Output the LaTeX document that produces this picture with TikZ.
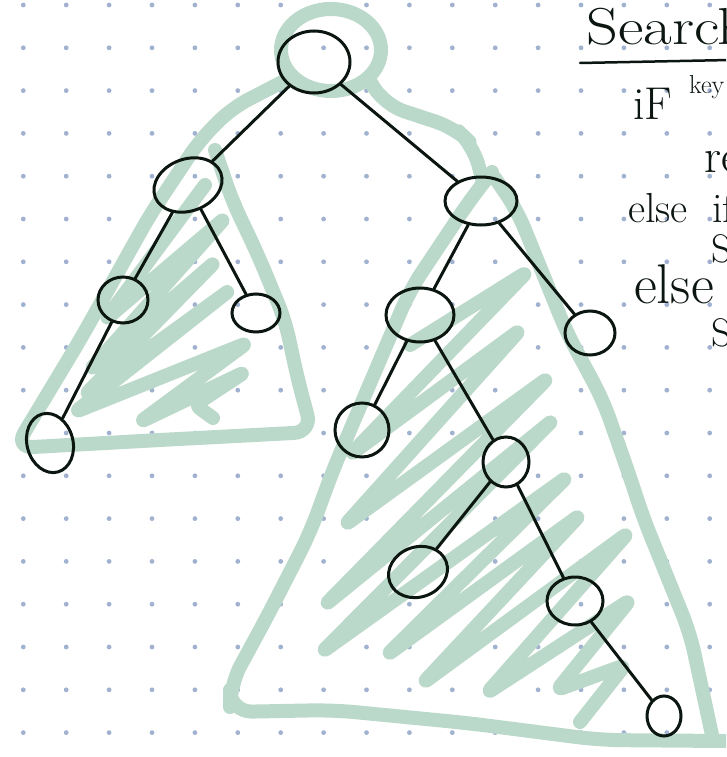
\documentclass[tikz,border=0pt]{standalone}
\usetikzlibrary{shapes.geometric}
\definecolor{leaf}{RGB}{187,217,203}
\definecolor{dotc}{RGB}{160,178,208}
\definecolor{ink}{RGB}{12,22,16}
\tikzset{
  ell/.style={draw=ink, line width=3, ellipse, inner sep=0, fill=none},
  edge/.style={draw=ink, line width=3, line cap=round},
  marker/.style={draw=leaf, line width=14, line cap=round, line join=round},
  hand/.style={text=ink, inner sep=0, anchor=base west},
}
\begin{document}
\begin{tikzpicture}[x=1pt,y=-1pt]
\useasboundingbox (0,0) rectangle (726,757);
\clip (0,0) rectangle (726,757);
\fill[white] (0,0) rectangle (726,757);
% dot grid
\foreach \i in {0,...,16} {
  \foreach \j in {0,...,17} {
    \fill[dotc] ({23.3+42.9*\i},{5+42.8*\j}) circle (2.4);
  }
}
% green markings: left triangle
\draw[marker, rounded corners=18] (290,78) -- (232,108) -- (200,140) -- (150,215) -- (80,340) -- (15,448)
   -- (160,440) -- (312,432) -- (298,380) -- (285,320) -- (258,255) -- (232,200) -- (215,150);
% root loop
\draw[marker] (331,50) ellipse (50 and 41);
% connecting stroke root to right subtree
\draw[marker, rounded corners=20] (368,78) -- (385,105) -- (455,128) -- (473,145) -- (483,182);
% right triangle
\draw[marker, rounded corners=22] (492,172) -- (470,200) -- (410,290) -- (377,367) -- (333,470)
  -- (310,533) -- (267,617) -- (230,685) -- (230,712) -- (333,710) -- (467,723) -- (600,740) -- (726,741);
\draw[marker, rounded corners=20] (495,178) -- (517,210) -- (567,333) -- (603,400) -- (630,477)
  -- (643,517) -- (690,633) -- (712,735);
% hatching left
\draw[marker, rounded corners=6] (205,185) -- (105,320) -- (225,218) -- (90,370) -- (215,262) -- (85,395) -- (230,290)
  -- (75,412) -- (247,343) -- (140,422) -- (245,372) -- (195,405) -- (213,418);
% hatching right
\draw[marker, rounded corners=6] (410,345) -- (527,272) -- (350,455) -- (520,330) -- (345,525)
  -- (548,378) -- (325,605) -- (553,420) -- (322,652) -- (567,477) -- (387,655) -- (580,515)
  -- (423,683) -- (628,533) -- (487,693) -- (630,600) -- (557,690) -- (625,665) -- (580,722);
% tree nodes
\node[ell, minimum width=72, minimum height=62] (root) at (314,62) {};
\node[ell, minimum width=70, minimum height=52, rotate=20] (L) at (188,185) {};
\node[ell, minimum width=50, minimum height=46] (LL) at (123,300) {};
\node[ell, minimum width=48, minimum height=38] (LR) at (256,313) {};
\node[ell, minimum width=46, minimum height=60, rotate=15] (LLL) at (50,443) {};
\node[ell, minimum width=72, minimum height=48] (R) at (481,201) {};
\node[ell, minimum width=68, minimum height=54] (RL) at (420,315) {};
\node[ell, minimum width=50, minimum height=44] (RR) at (590,333) {};
\node[ell, minimum width=54, minimum height=54] (RLL) at (362,430) {};
\node[ell, minimum width=46, minimum height=50] (RLR) at (506,462) {};
\node[ell, minimum width=60, minimum height=50, rotate=20] (RLRL) at (418,572) {};
\node[ell, minimum width=56, minimum height=48] (RLRR) at (575,601) {};
\node[ell, minimum width=34, minimum height=40] (RLRRR) at (664,716) {};
% connectors
\draw[edge] (root) -- (L);
\draw[edge] (root) -- (R);
\draw[edge] (L) -- (LL);
\draw[edge] (L) -- (LR);
\draw[edge] (LL) -- (LLL);
\draw[edge] (R) -- (RL);
\draw[edge] (R) -- (RR);
\draw[edge] (RL) -- (RLL);
\draw[edge] (RL) -- (RLR);
\draw[edge] (RLR) -- (RLRL);
\draw[edge] (RLR) -- (RLRR);
\draw[edge] (RLRR) -- (RLRRR);
% text
\node[hand, font=\fontsize{52}{52}\selectfont] (t1) at (586,45) {\scalebox{1.2}[1]{Search}};
\draw[ink, line width=2.5, line cap=round] (580,63) -- (730,60);
\node[hand, font=\fontsize{46}{46}\selectfont] (t2) at (633,120) {iF};
\node[hand, font=\fontsize{26}{26}\selectfont] (t3) at (689,94) {key};
\node[hand, font=\fontsize{48}{48}\selectfont] (t4) at (704,172) {return};
\node[hand, font=\fontsize{42}{42}\selectfont] (t5) at (628,222) {else};
\node[hand, font=\fontsize{42}{42}\selectfont] (t6) at (712,222) {if};
\node[hand, font=\fontsize{40}{40}\selectfont] (t7) at (711,262) {Search};
\node[hand, font=\fontsize{56}{56}\selectfont] (t8) at (634,303) {else};
\node[hand, font=\fontsize{40}{40}\selectfont] (t9) at (711,346) {Search};
\end{tikzpicture}
\end{document}
